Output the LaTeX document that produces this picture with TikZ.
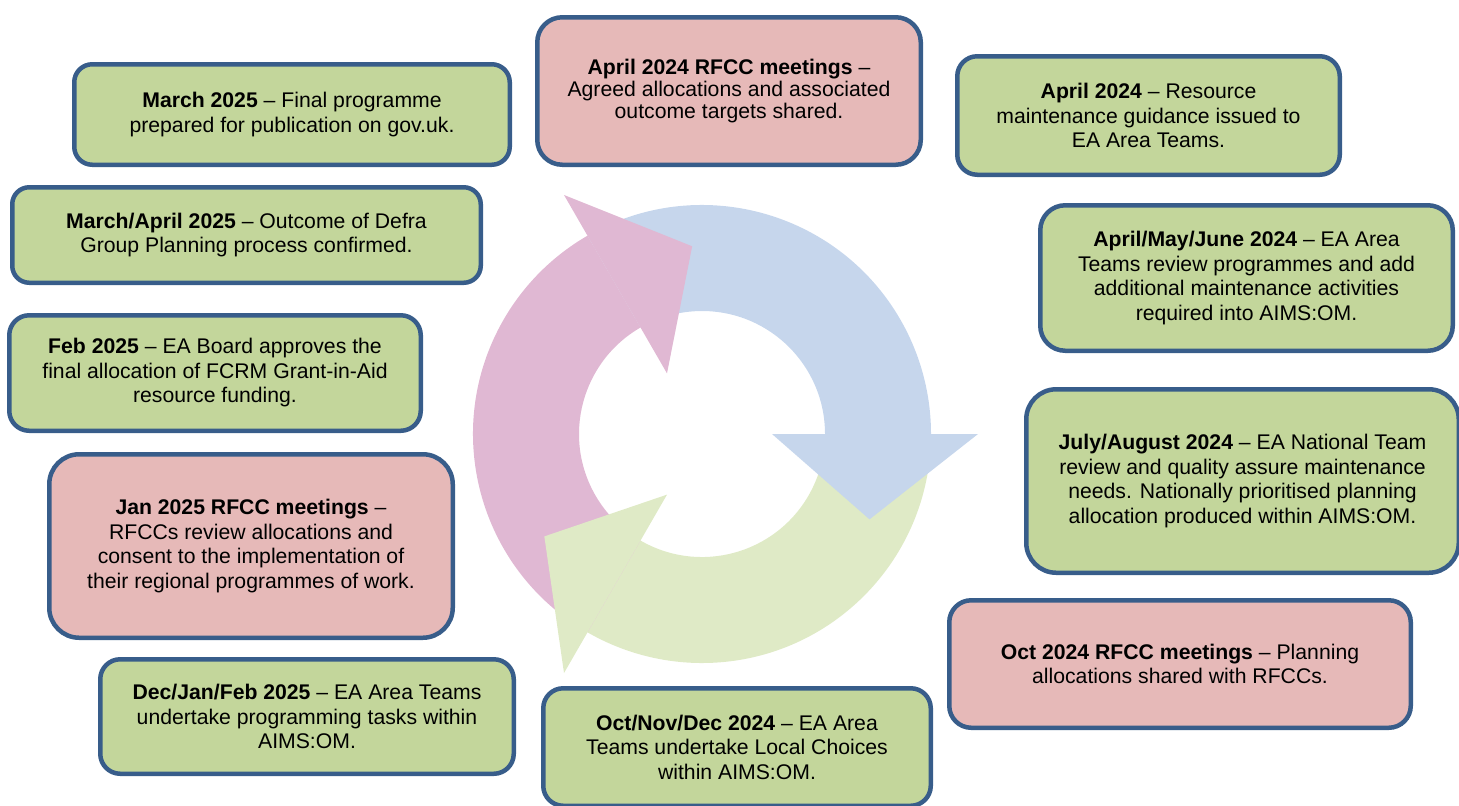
\documentclass[tikz,border=0pt]{standalone}
\usepackage{fontspec}
\setmainfont{Liberation Sans}
\definecolor{boxedge}{HTML}{385D8A}
\definecolor{boxgreen}{HTML}{C3D69B}
\definecolor{boxpink}{HTML}{E6B9B8}
\definecolor{arrowblue}{HTML}{C6D6EC}
\definecolor{arrowpink}{HTML}{E0B8D3}
\definecolor{arrowgreen}{HTML}{DFEAC6}
\begin{document}
\begin{tikzpicture}[x=0.5pt,y=-0.5pt,
    stage/.style={draw=boxedge,line width=2.25pt,rounded corners=#1,align=center,inner sep=0pt,
        font=\fontsize{10.6}{12.25}\selectfont},
    task/.style={stage=#1,fill=boxgreen},
    meeting/.style={stage=#1,fill=boxpink}]
    \useasboundingbox (0,0) rectangle (1459,805);
    % cycle of three arrows: bands first, heads on top
    \begin{scope}[shift={(702,434)}]
        \foreach \a/\c in {240/arrowblue,0/arrowgreen,120/arrowpink}
            \fill[\c] (\a:229) arc[start angle=\a,end angle=\a+120,radius=229]
                -- ({\a+120}:123) arc[start angle=\a+120,end angle=\a,radius=123] -- cycle;
        \foreach \a/\c in {360/arrowblue,120/arrowgreen,240/arrowpink}
            \fill[\c] (\a:70) -- (\a:276) -- ({\a+27}:188) -- cycle;
    \end{scope}
    % timeline boxes
    \node[task=9pt,minimum width=217.75pt,minimum height=50.25pt] (mar25) at (292,114.5)
        {\textbf{March 2025} – Final programme\\prepared for publication on gov.uk.};
    \node[meeting=12.5pt,minimum width=191.75pt,minimum height=73.75pt,font=\fontsize{10.6}{10.85}\selectfont] (apr24rfcc) at (729,91)
        {\textbf{April 2024 RFCC meetings} –\\Agreed allocations and associated\\outcome targets shared.};
    \node[task=10pt,minimum width=191.25pt,minimum height=59.25pt] (apr24) at (1148.5,115.5)
        {\textbf{April 2024} – Resource\\maintenance guidance issued to\\EA Area Teams.};
    \node[task=8.5pt,minimum width=234.25pt,minimum height=47.75pt] (marapr25) at (246.5,235)
        {\textbf{March/April 2025} – Outcome of Defra\\Group Planning process confirmed.};
    \node[task=12.5pt,minimum width=206.25pt,minimum height=72.75pt] (amj24) at (1246.5,278)
        {\textbf{April/May/June 2024} – EA Area\\Teams review programmes and add\\additional maintenance activities\\required into AIMS:OM.};
    \node[task=10pt,minimum width=205.75pt,minimum height=57.75pt] (feb25) at (215,373)
        {\textbf{Feb 2025} – EA Board approves the\\final allocation of FCRM Grant-in-Aid\\resource funding.};
    \node[task=15pt,minimum width=216.25pt,minimum height=91.75pt] (julaug24) at (1242.5,481)
        {\textbf{July/August 2024} – EA National Team\\review and quality assure maintenance\\needs. Nationally prioritised planning\\allocation produced within AIMS:OM.};
    \node[meeting=15pt,minimum width=201.75pt,minimum height=91.75pt] (jan25rfcc) at (251,546)
        {\textbf{Jan 2025 RFCC meetings} –\\RFCCs review allocations and\\consent to the implementation of\\their regional programmes of work.};
    \node[meeting=11pt,minimum width=230.75pt,minimum height=63.75pt] (oct24rfcc) at (1180,664)
        {\textbf{Oct 2024 RFCC meetings} – Planning\\allocations shared with RFCCs.};
    \node[task=10pt,minimum width=206.75pt,minimum height=57.25pt] (djf25) at (307,716.5)
        {\textbf{Dec/Jan/Feb 2025} – EA Area Teams\\undertake programming tasks within\\AIMS:OM.};
    \node[task=10pt,minimum width=193.75pt,minimum height=58.75pt] (ond24) at (737,747)
        {\textbf{Oct/Nov/Dec 2024} – EA Area\\Teams undertake Local Choices\\within AIMS:OM.};
\end{tikzpicture}
\end{document}
